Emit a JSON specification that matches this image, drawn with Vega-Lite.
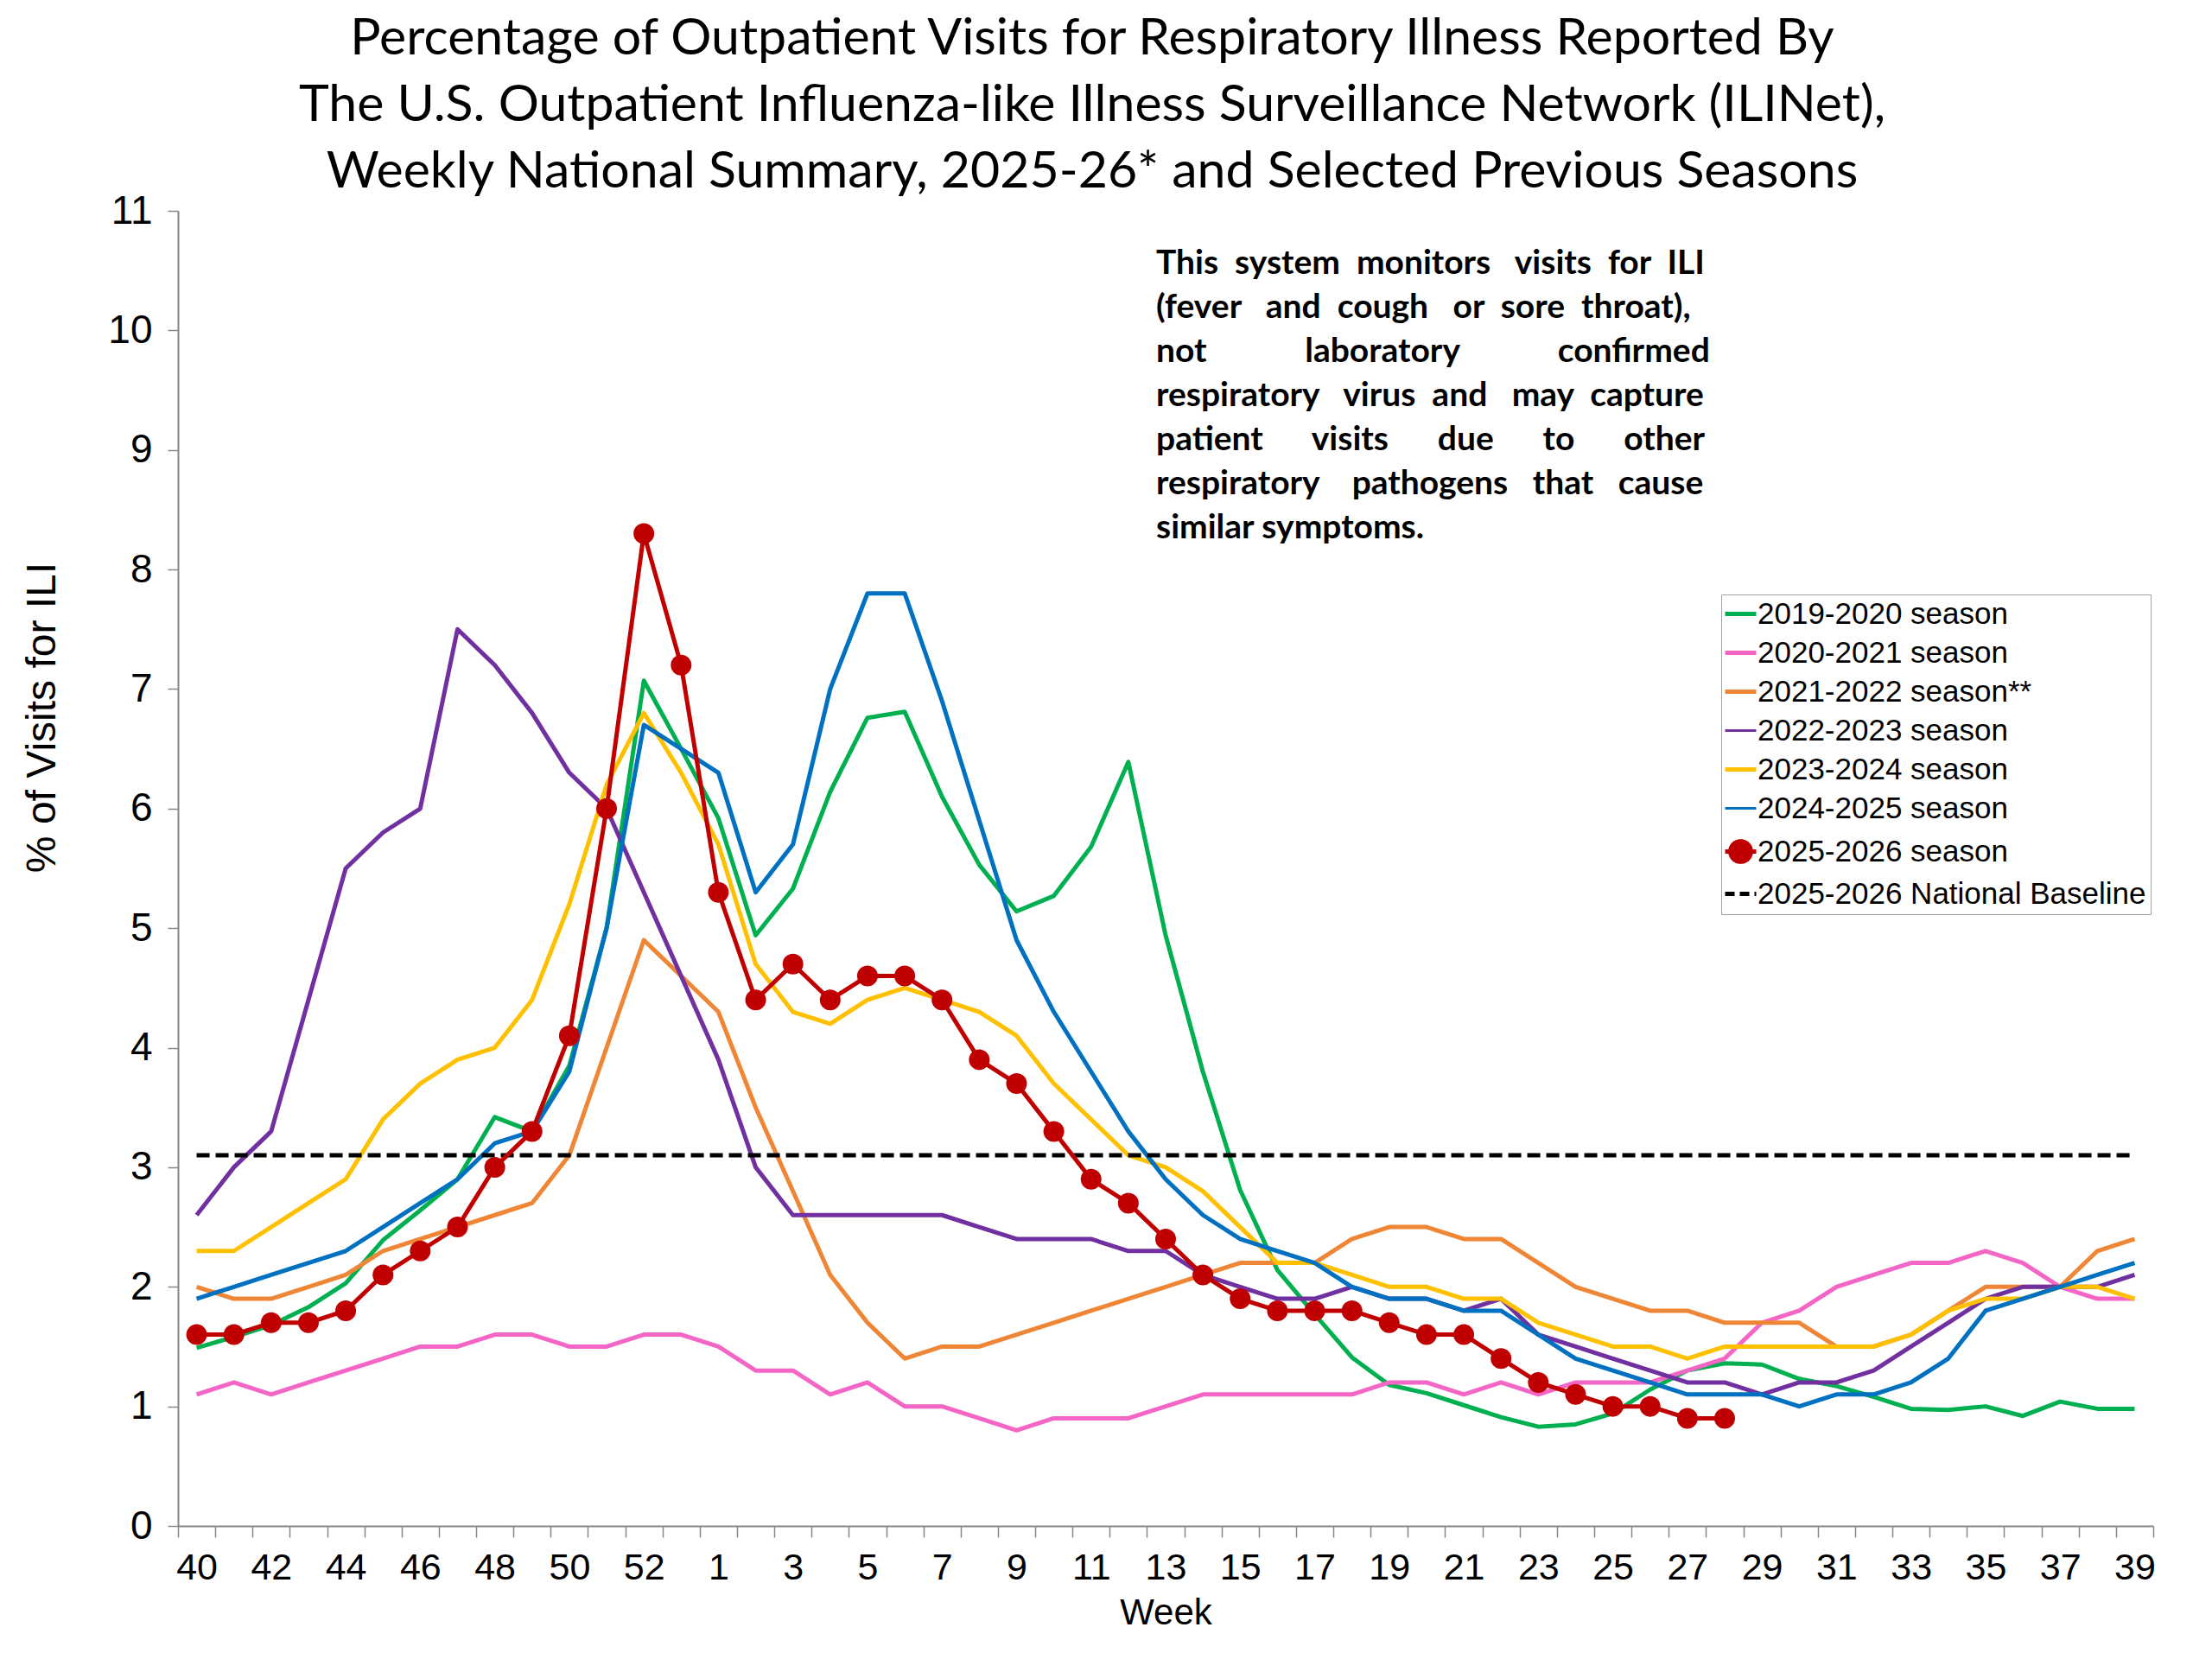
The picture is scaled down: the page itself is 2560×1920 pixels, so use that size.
{
  "$schema": "https://vega.github.io/schema/vega-lite/v6.json",
  "width": 2286,
  "height": 1522,
  "autosize": {"type": "none"},
  "padding": {"left": 206, "top": 244, "right": 68, "bottom": 154},
  "background": "white",
  "title": {
    "text": [
      "Percentage of Outpatient Visits for Respiratory Illness Reported By",
      "The U.S. Outpatient Influenza-like Illness Surveillance Network (ILINet),",
      "Weekly National Summary, 2025-26* and Selected Previous Seasons"
    ],
    "font": "Lato",
    "fontSize": 59,
    "fontWeight": "normal",
    "lineHeight": 77,
    "color": "black",
    "anchor": "middle",
    "dx": -85,
    "offset": -8
  },
  "config": {
    "view": {"stroke": null},
    "axis": {
      "labelFont": "Liberation Sans",
      "titleFont": "Liberation Sans",
      "labelColor": "black",
      "titleColor": "black",
      "titleFontWeight": "normal",
      "domainColor": "#868686",
      "tickColor": "#868686",
      "domainWidth": 2,
      "tickWidth": 1.5,
      "grid": false
    }
  },
  "datasets": {
    "note": [
      {"week": "13", "pct": 10.47, "lines": [
        "This \u00a0system \u00a0monitors \u00a0\u00a0visits \u00a0for \u00a0ILI",
        "(fever \u00a0\u00a0and \u00a0cough \u00a0\u00a0or \u00a0sore \u00a0throat),",
        "not \u00a0\u00a0\u00a0\u00a0\u00a0\u00a0\u00a0\u00a0\u00a0\u00a0\u00a0laboratory \u00a0\u00a0\u00a0\u00a0\u00a0\u00a0\u00a0\u00a0\u00a0\u00a0\u00a0confirmed",
        "respiratory \u00a0\u00a0virus \u00a0and \u00a0\u00a0may \u00a0capture",
        "patient \u00a0\u00a0\u00a0\u00a0\u00a0visits \u00a0\u00a0\u00a0\u00a0\u00a0due \u00a0\u00a0\u00a0\u00a0\u00a0to \u00a0\u00a0\u00a0\u00a0\u00a0other",
        "respiratory \u00a0\u00a0\u00a0pathogens \u00a0\u00a0that \u00a0\u00a0cause",
        "similar symptoms."
      ]}
    ]
  },
  "data": {
    "values": [
      {"week": "40", "2019-2020 season": 1.49, "2020-2021 season": 1.1, "2021-2022 season**": 2.0, "2022-2023 season": 2.6, "2023-2024 season": 2.3, "2024-2025 season": 1.9, "2025-2026 season": 1.6, "2025-2026 National Baseline": 3.1},
      {"week": "41", "2019-2020 season": 1.58, "2020-2021 season": 1.2, "2021-2022 season**": 1.9, "2022-2023 season": 3.0, "2023-2024 season": 2.3, "2024-2025 season": 2.0, "2025-2026 season": 1.6, "2025-2026 National Baseline": 3.1},
      {"week": "42", "2019-2020 season": 1.68, "2020-2021 season": 1.1, "2021-2022 season**": 1.9, "2022-2023 season": 3.3, "2023-2024 season": 2.5, "2024-2025 season": 2.1, "2025-2026 season": 1.7, "2025-2026 National Baseline": 3.1},
      {"week": "43", "2019-2020 season": 1.83, "2020-2021 season": 1.2, "2021-2022 season**": 2.0, "2022-2023 season": 4.4, "2023-2024 season": 2.7, "2024-2025 season": 2.2, "2025-2026 season": 1.7, "2025-2026 National Baseline": 3.1},
      {"week": "44", "2019-2020 season": 2.03, "2020-2021 season": 1.3, "2021-2022 season**": 2.1, "2022-2023 season": 5.5, "2023-2024 season": 2.9, "2024-2025 season": 2.3, "2025-2026 season": 1.8, "2025-2026 National Baseline": 3.1},
      {"week": "45", "2019-2020 season": 2.39, "2020-2021 season": 1.4, "2021-2022 season**": 2.3, "2022-2023 season": 5.8, "2023-2024 season": 3.4, "2024-2025 season": 2.5, "2025-2026 season": 2.1, "2025-2026 National Baseline": 3.1},
      {"week": "46", "2019-2020 season": 2.64, "2020-2021 season": 1.5, "2021-2022 season**": 2.4, "2022-2023 season": 6.0, "2023-2024 season": 3.7, "2024-2025 season": 2.7, "2025-2026 season": 2.3, "2025-2026 National Baseline": 3.1},
      {"week": "47", "2019-2020 season": 2.9, "2020-2021 season": 1.5, "2021-2022 season**": 2.5, "2022-2023 season": 7.5, "2023-2024 season": 3.9, "2024-2025 season": 2.9, "2025-2026 season": 2.5, "2025-2026 National Baseline": 3.1},
      {"week": "48", "2019-2020 season": 3.42, "2020-2021 season": 1.6, "2021-2022 season**": 2.6, "2022-2023 season": 7.2, "2023-2024 season": 4.0, "2024-2025 season": 3.2, "2025-2026 season": 3.0, "2025-2026 National Baseline": 3.1},
      {"week": "49", "2019-2020 season": 3.3, "2020-2021 season": 1.6, "2021-2022 season**": 2.7, "2022-2023 season": 6.8, "2023-2024 season": 4.4, "2024-2025 season": 3.3, "2025-2026 season": 3.3, "2025-2026 National Baseline": 3.1},
      {"week": "50", "2019-2020 season": 3.85, "2020-2021 season": 1.5, "2021-2022 season**": 3.1, "2022-2023 season": 6.3, "2023-2024 season": 5.2, "2024-2025 season": 3.8, "2025-2026 season": 4.1, "2025-2026 National Baseline": 3.1},
      {"week": "51", "2019-2020 season": 5.0, "2020-2021 season": 1.5, "2021-2022 season**": 4.0, "2022-2023 season": 6.0, "2023-2024 season": 6.2, "2024-2025 season": 5.0, "2025-2026 season": 6.0, "2025-2026 National Baseline": 3.1},
      {"week": "52", "2019-2020 season": 7.07, "2020-2021 season": 1.6, "2021-2022 season**": 4.9, "2022-2023 season": 5.3, "2023-2024 season": 6.8, "2024-2025 season": 6.7, "2025-2026 season": 8.3, "2025-2026 National Baseline": 3.1},
      {"week": "53", "2019-2020 season": 6.5, "2020-2021 season": 1.6, "2021-2022 season**": 4.6, "2022-2023 season": 4.6, "2023-2024 season": 6.3, "2024-2025 season": 6.5, "2025-2026 season": 7.2, "2025-2026 National Baseline": 3.1},
      {"week": "1", "2019-2020 season": 5.92, "2020-2021 season": 1.5, "2021-2022 season**": 4.3, "2022-2023 season": 3.9, "2023-2024 season": 5.7, "2024-2025 season": 6.3, "2025-2026 season": 5.3, "2025-2026 National Baseline": 3.1},
      {"week": "2", "2019-2020 season": 4.94, "2020-2021 season": 1.3, "2021-2022 season**": 3.5, "2022-2023 season": 3.0, "2023-2024 season": 4.7, "2024-2025 season": 5.3, "2025-2026 season": 4.4, "2025-2026 National Baseline": 3.1},
      {"week": "3", "2019-2020 season": 5.33, "2020-2021 season": 1.3, "2021-2022 season**": 2.8, "2022-2023 season": 2.6, "2023-2024 season": 4.3, "2024-2025 season": 5.7, "2025-2026 season": 4.7, "2025-2026 National Baseline": 3.1},
      {"week": "4", "2019-2020 season": 6.14, "2020-2021 season": 1.1, "2021-2022 season**": 2.1, "2022-2023 season": 2.6, "2023-2024 season": 4.2, "2024-2025 season": 7.0, "2025-2026 season": 4.4, "2025-2026 National Baseline": 3.1},
      {"week": "5", "2019-2020 season": 6.76, "2020-2021 season": 1.2, "2021-2022 season**": 1.7, "2022-2023 season": 2.6, "2023-2024 season": 4.4, "2024-2025 season": 7.8, "2025-2026 season": 4.6, "2025-2026 National Baseline": 3.1},
      {"week": "6", "2019-2020 season": 6.81, "2020-2021 season": 1.0, "2021-2022 season**": 1.4, "2022-2023 season": 2.6, "2023-2024 season": 4.5, "2024-2025 season": 7.8, "2025-2026 season": 4.6, "2025-2026 National Baseline": 3.1},
      {"week": "7", "2019-2020 season": 6.1, "2020-2021 season": 1.0, "2021-2022 season**": 1.5, "2022-2023 season": 2.6, "2023-2024 season": 4.4, "2024-2025 season": 6.9, "2025-2026 season": 4.4, "2025-2026 National Baseline": 3.1},
      {"week": "8", "2019-2020 season": 5.53, "2020-2021 season": 0.9, "2021-2022 season**": 1.5, "2022-2023 season": 2.5, "2023-2024 season": 4.3, "2024-2025 season": 5.9, "2025-2026 season": 3.9, "2025-2026 National Baseline": 3.1},
      {"week": "9", "2019-2020 season": 5.14, "2020-2021 season": 0.8, "2021-2022 season**": 1.6, "2022-2023 season": 2.4, "2023-2024 season": 4.1, "2024-2025 season": 4.9, "2025-2026 season": 3.7, "2025-2026 National Baseline": 3.1},
      {"week": "10", "2019-2020 season": 5.27, "2020-2021 season": 0.9, "2021-2022 season**": 1.7, "2022-2023 season": 2.4, "2023-2024 season": 3.7, "2024-2025 season": 4.3, "2025-2026 season": 3.3, "2025-2026 National Baseline": 3.1},
      {"week": "11", "2019-2020 season": 5.68, "2020-2021 season": 0.9, "2021-2022 season**": 1.8, "2022-2023 season": 2.4, "2023-2024 season": 3.4, "2024-2025 season": 3.8, "2025-2026 season": 2.9, "2025-2026 National Baseline": 3.1},
      {"week": "12", "2019-2020 season": 6.39, "2020-2021 season": 0.9, "2021-2022 season**": 1.9, "2022-2023 season": 2.3, "2023-2024 season": 3.1, "2024-2025 season": 3.3, "2025-2026 season": 2.7, "2025-2026 National Baseline": 3.1},
      {"week": "13", "2019-2020 season": 4.94, "2020-2021 season": 1.0, "2021-2022 season**": 2.0, "2022-2023 season": 2.3, "2023-2024 season": 3.0, "2024-2025 season": 2.9, "2025-2026 season": 2.4, "2025-2026 National Baseline": 3.1},
      {"week": "14", "2019-2020 season": 3.8, "2020-2021 season": 1.1, "2021-2022 season**": 2.1, "2022-2023 season": 2.1, "2023-2024 season": 2.8, "2024-2025 season": 2.6, "2025-2026 season": 2.1, "2025-2026 National Baseline": 3.1},
      {"week": "15", "2019-2020 season": 2.81, "2020-2021 season": 1.1, "2021-2022 season**": 2.2, "2022-2023 season": 2.0, "2023-2024 season": 2.5, "2024-2025 season": 2.4, "2025-2026 season": 1.9, "2025-2026 National Baseline": 3.1},
      {"week": "16", "2019-2020 season": 2.14, "2020-2021 season": 1.1, "2021-2022 season**": 2.2, "2022-2023 season": 1.9, "2023-2024 season": 2.2, "2024-2025 season": 2.3, "2025-2026 season": 1.8, "2025-2026 National Baseline": 3.1},
      {"week": "17", "2019-2020 season": 1.77, "2020-2021 season": 1.1, "2021-2022 season**": 2.2, "2022-2023 season": 1.9, "2023-2024 season": 2.2, "2024-2025 season": 2.2, "2025-2026 season": 1.8, "2025-2026 National Baseline": 3.1},
      {"week": "18", "2019-2020 season": 1.41, "2020-2021 season": 1.1, "2021-2022 season**": 2.4, "2022-2023 season": 2.0, "2023-2024 season": 2.1, "2024-2025 season": 2.0, "2025-2026 season": 1.8, "2025-2026 National Baseline": 3.1},
      {"week": "19", "2019-2020 season": 1.18, "2020-2021 season": 1.2, "2021-2022 season**": 2.5, "2022-2023 season": 1.9, "2023-2024 season": 2.0, "2024-2025 season": 1.9, "2025-2026 season": 1.7, "2025-2026 National Baseline": 3.1},
      {"week": "20", "2019-2020 season": 1.11, "2020-2021 season": 1.2, "2021-2022 season**": 2.5, "2022-2023 season": 1.9, "2023-2024 season": 2.0, "2024-2025 season": 1.9, "2025-2026 season": 1.6, "2025-2026 National Baseline": 3.1},
      {"week": "21", "2019-2020 season": 1.01, "2020-2021 season": 1.1, "2021-2022 season**": 2.4, "2022-2023 season": 1.8, "2023-2024 season": 1.9, "2024-2025 season": 1.8, "2025-2026 season": 1.6, "2025-2026 National Baseline": 3.1},
      {"week": "22", "2019-2020 season": 0.91, "2020-2021 season": 1.2, "2021-2022 season**": 2.4, "2022-2023 season": 1.9, "2023-2024 season": 1.9, "2024-2025 season": 1.8, "2025-2026 season": 1.4, "2025-2026 National Baseline": 3.1},
      {"week": "23", "2019-2020 season": 0.83, "2020-2021 season": 1.1, "2021-2022 season**": 2.2, "2022-2023 season": 1.6, "2023-2024 season": 1.7, "2024-2025 season": 1.6, "2025-2026 season": 1.2, "2025-2026 National Baseline": 3.1},
      {"week": "24", "2019-2020 season": 0.85, "2020-2021 season": 1.2, "2021-2022 season**": 2.0, "2022-2023 season": 1.5, "2023-2024 season": 1.6, "2024-2025 season": 1.4, "2025-2026 season": 1.1, "2025-2026 National Baseline": 3.1},
      {"week": "25", "2019-2020 season": 0.94, "2020-2021 season": 1.2, "2021-2022 season**": 1.9, "2022-2023 season": 1.4, "2023-2024 season": 1.5, "2024-2025 season": 1.3, "2025-2026 season": 1.0, "2025-2026 National Baseline": 3.1},
      {"week": "26", "2019-2020 season": 1.14, "2020-2021 season": 1.2, "2021-2022 season**": 1.8, "2022-2023 season": 1.3, "2023-2024 season": 1.5, "2024-2025 season": 1.2, "2025-2026 season": 1.0, "2025-2026 National Baseline": 3.1},
      {"week": "27", "2019-2020 season": 1.3, "2020-2021 season": 1.3, "2021-2022 season**": 1.8, "2022-2023 season": 1.2, "2023-2024 season": 1.4, "2024-2025 season": 1.1, "2025-2026 season": 0.9, "2025-2026 National Baseline": 3.1},
      {"week": "28", "2019-2020 season": 1.36, "2020-2021 season": 1.4, "2021-2022 season**": 1.7, "2022-2023 season": 1.2, "2023-2024 season": 1.5, "2024-2025 season": 1.1, "2025-2026 season": 0.9, "2025-2026 National Baseline": 3.1},
      {"week": "29", "2019-2020 season": 1.35, "2020-2021 season": 1.7, "2021-2022 season**": 1.7, "2022-2023 season": 1.1, "2023-2024 season": 1.5, "2024-2025 season": 1.1, "2025-2026 National Baseline": 3.1},
      {"week": "30", "2019-2020 season": 1.23, "2020-2021 season": 1.8, "2021-2022 season**": 1.7, "2022-2023 season": 1.2, "2023-2024 season": 1.5, "2024-2025 season": 1.0, "2025-2026 National Baseline": 3.1},
      {"week": "31", "2019-2020 season": 1.17, "2020-2021 season": 2.0, "2021-2022 season**": 1.5, "2022-2023 season": 1.2, "2023-2024 season": 1.5, "2024-2025 season": 1.1, "2025-2026 National Baseline": 3.1},
      {"week": "32", "2019-2020 season": 1.08, "2020-2021 season": 2.1, "2021-2022 season**": 1.5, "2022-2023 season": 1.3, "2023-2024 season": 1.5, "2024-2025 season": 1.1, "2025-2026 National Baseline": 3.1},
      {"week": "33", "2019-2020 season": 0.98, "2020-2021 season": 2.2, "2021-2022 season**": 1.6, "2022-2023 season": 1.5, "2023-2024 season": 1.6, "2024-2025 season": 1.2, "2025-2026 National Baseline": 3.1},
      {"week": "34", "2019-2020 season": 0.97, "2020-2021 season": 2.2, "2021-2022 season**": 1.8, "2022-2023 season": 1.7, "2023-2024 season": 1.8, "2024-2025 season": 1.4, "2025-2026 National Baseline": 3.1},
      {"week": "35", "2019-2020 season": 1.0, "2020-2021 season": 2.3, "2021-2022 season**": 2.0, "2022-2023 season": 1.9, "2023-2024 season": 1.9, "2024-2025 season": 1.8, "2025-2026 National Baseline": 3.1},
      {"week": "36", "2019-2020 season": 0.92, "2020-2021 season": 2.2, "2021-2022 season**": 2.0, "2022-2023 season": 2.0, "2023-2024 season": 1.9, "2024-2025 season": 1.9, "2025-2026 National Baseline": 3.1},
      {"week": "37", "2019-2020 season": 1.04, "2020-2021 season": 2.0, "2021-2022 season**": 2.0, "2022-2023 season": 2.0, "2023-2024 season": 2.0, "2024-2025 season": 2.0, "2025-2026 National Baseline": 3.1},
      {"week": "38", "2019-2020 season": 0.98, "2020-2021 season": 1.9, "2021-2022 season**": 2.3, "2022-2023 season": 2.0, "2023-2024 season": 2.0, "2024-2025 season": 2.1, "2025-2026 National Baseline": 3.1},
      {"week": "39", "2019-2020 season": 0.98, "2020-2021 season": 1.9, "2021-2022 season**": 2.4, "2022-2023 season": 2.1, "2023-2024 season": 1.9, "2024-2025 season": 2.2, "2025-2026 National Baseline": 3.1}
    ]
  },
  "encoding": {
    "x": {
      "field": "week",
      "type": "ordinal",
      "bandPosition": 0.5,
      "scale": {
        "type": "band",
        "paddingInner": 0,
        "paddingOuter": 0,
        "domain": ["40", "41", "42", "43", "44", "45", "46", "47", "48", "49", "50", "51", "52", "53", "1", "2", "3", "4", "5", "6", "7", "8", "9", "10", "11", "12", "13", "14", "15", "16", "17", "18", "19", "20", "21", "22", "23", "24", "25", "26", "27", "28", "29", "30", "31", "32", "33", "34", "35", "36", "37", "38", "39"]
      },
      "axis": {
        "title": "Week",
        "titleFontSize": 42,
        "titlePadding": 10,
        "labelFontSize": 43,
        "labelAngle": 0,
        "labelOverlap": false,
        "labelPadding": 14,
        "tickSize": 13,
        "tickBand": "extent",
        "labelExpr": "(toNumber(datum.value) >= 40 ? toNumber(datum.value) % 2 == 0 : toNumber(datum.value) % 2 == 1) ? datum.value : ''"
      }
    },
    "y": {
      "field": "pct",
      "type": "quantitative",
      "scale": {"domain": [0, 11], "nice": false, "zero": true},
      "axis": {
        "title": "% of Visits for ILI",
        "titleFontSize": 48,
        "titleX": -157,
        "titleY": 586,
        "titleAlign": "center",
        "titleBaseline": "middle",
        "values": [0, 1, 2, 3, 4, 5, 6, 7, 8, 9, 10, 11],
        "labelFontSize": 46,
        "labelPadding": 18,
        "tickSize": 12
      }
    }
  },
  "layer": [
    {
      "transform": [
        {
          "fold": ["2019-2020 season", "2020-2021 season", "2021-2022 season**", "2022-2023 season", "2023-2024 season", "2024-2025 season", "2025-2026 season", "2025-2026 National Baseline"],
          "as": ["season", "pct"]
        },
        {"filter": "isValid(datum.pct)"}
      ],
      "encoding": {
        "color": {
          "field": "season",
          "type": "nominal",
          "scale": {
            "domain": ["2019-2020 season", "2020-2021 season", "2021-2022 season**", "2022-2023 season", "2023-2024 season", "2024-2025 season", "2025-2026 season", "2025-2026 National Baseline"],
            "range": ["#00B050", "#F366C6", "#EF8636", "#7030A0", "#FFC000", "#0070C0", "#C00000", "#000000"]
          },
          "legend": {
            "title": null,
            "orient": "none",
            "legendX": 1786,
            "legendY": 444,
            "padding": 5,
            "strokeColor": "#A0A0A0",
            "fillColor": "white",
            "labelFont": "Liberation Sans",
            "labelFontSize": 35,
            "labelColor": "black",
            "labelLimit": 0,
            "labelOffset": 2,
            "rowPadding": 9,
            "symbolType": "stroke",
            "symbolSize": 1296,
            "symbolStrokeWidth": 5,
            "encode": {
              "symbols": {
                "update": {
                  "shape": {"signal": "datum.value === '2025-2026 season' ? 'M-1,0L1,0M-0.66,0A0.66,0.66,0,1,1,0.66,0A0.66,0.66,0,1,1,-0.66,0Z' : 'stroke'"},
                  "fill": {"signal": "datum.value === '2025-2026 season' ? '#C00000' : 'transparent'"},
                  "strokeWidth": {"signal": "(datum.value === '2022-2023 season' || datum.value === '2024-2025 season') ? 3 : 5"},
                  "strokeDash": {"signal": "datum.value === '2025-2026 National Baseline' ? [11, 6] : [1, 0]"}
                }
              }
            }
          }
        }
      },
      "layer": [
        {
          "transform": [{"filter": "datum.season !== '2025-2026 season' && datum.season !== '2025-2026 National Baseline'"}],
          "mark": {"type": "line", "strokeJoin": "round"},
          "encoding": {
            "strokeWidth": {
              "field": "season",
              "type": "ordinal",
              "scale": {
                "domain": ["2019-2020 season", "2020-2021 season", "2021-2022 season**", "2022-2023 season", "2023-2024 season", "2024-2025 season"],
                "range": [5, 5, 5.5, 3, 5.5, 3]
              },
              "legend": null
            }
          }
        },
        {
          "transform": [{"filter": "datum.season === '2025-2026 National Baseline'"}],
          "mark": {"type": "line", "strokeWidth": 5, "strokeDash": [15, 7]},
          "encoding": {}
        },
        {
          "transform": [{"filter": "datum.season === '2025-2026 season'"}],
          "mark": {"type": "line", "strokeWidth": 5, "strokeJoin": "round"},
          "encoding": {}
        },
        {
          "transform": [{"filter": "datum.season === '2025-2026 season'"}],
          "mark": {"type": "point", "filled": true, "opacity": 1, "size": 576, "shape": "circle"},
          "encoding": {"color": {"value": "#C00000"}}
        }
      ]
    },
    {
      "data": {"name": "note"},
      "mark": {
        "type": "text",
        "font": "Lato",
        "fontWeight": "bold",
        "fontSize": 39,
        "lineHeight": 51,
        "align": "left",
        "baseline": "alphabetic",
        "dx": -11,
        "color": "black"
      },
      "encoding": {
        "text": {"field": "lines"}
      }
    }
  ]
}
